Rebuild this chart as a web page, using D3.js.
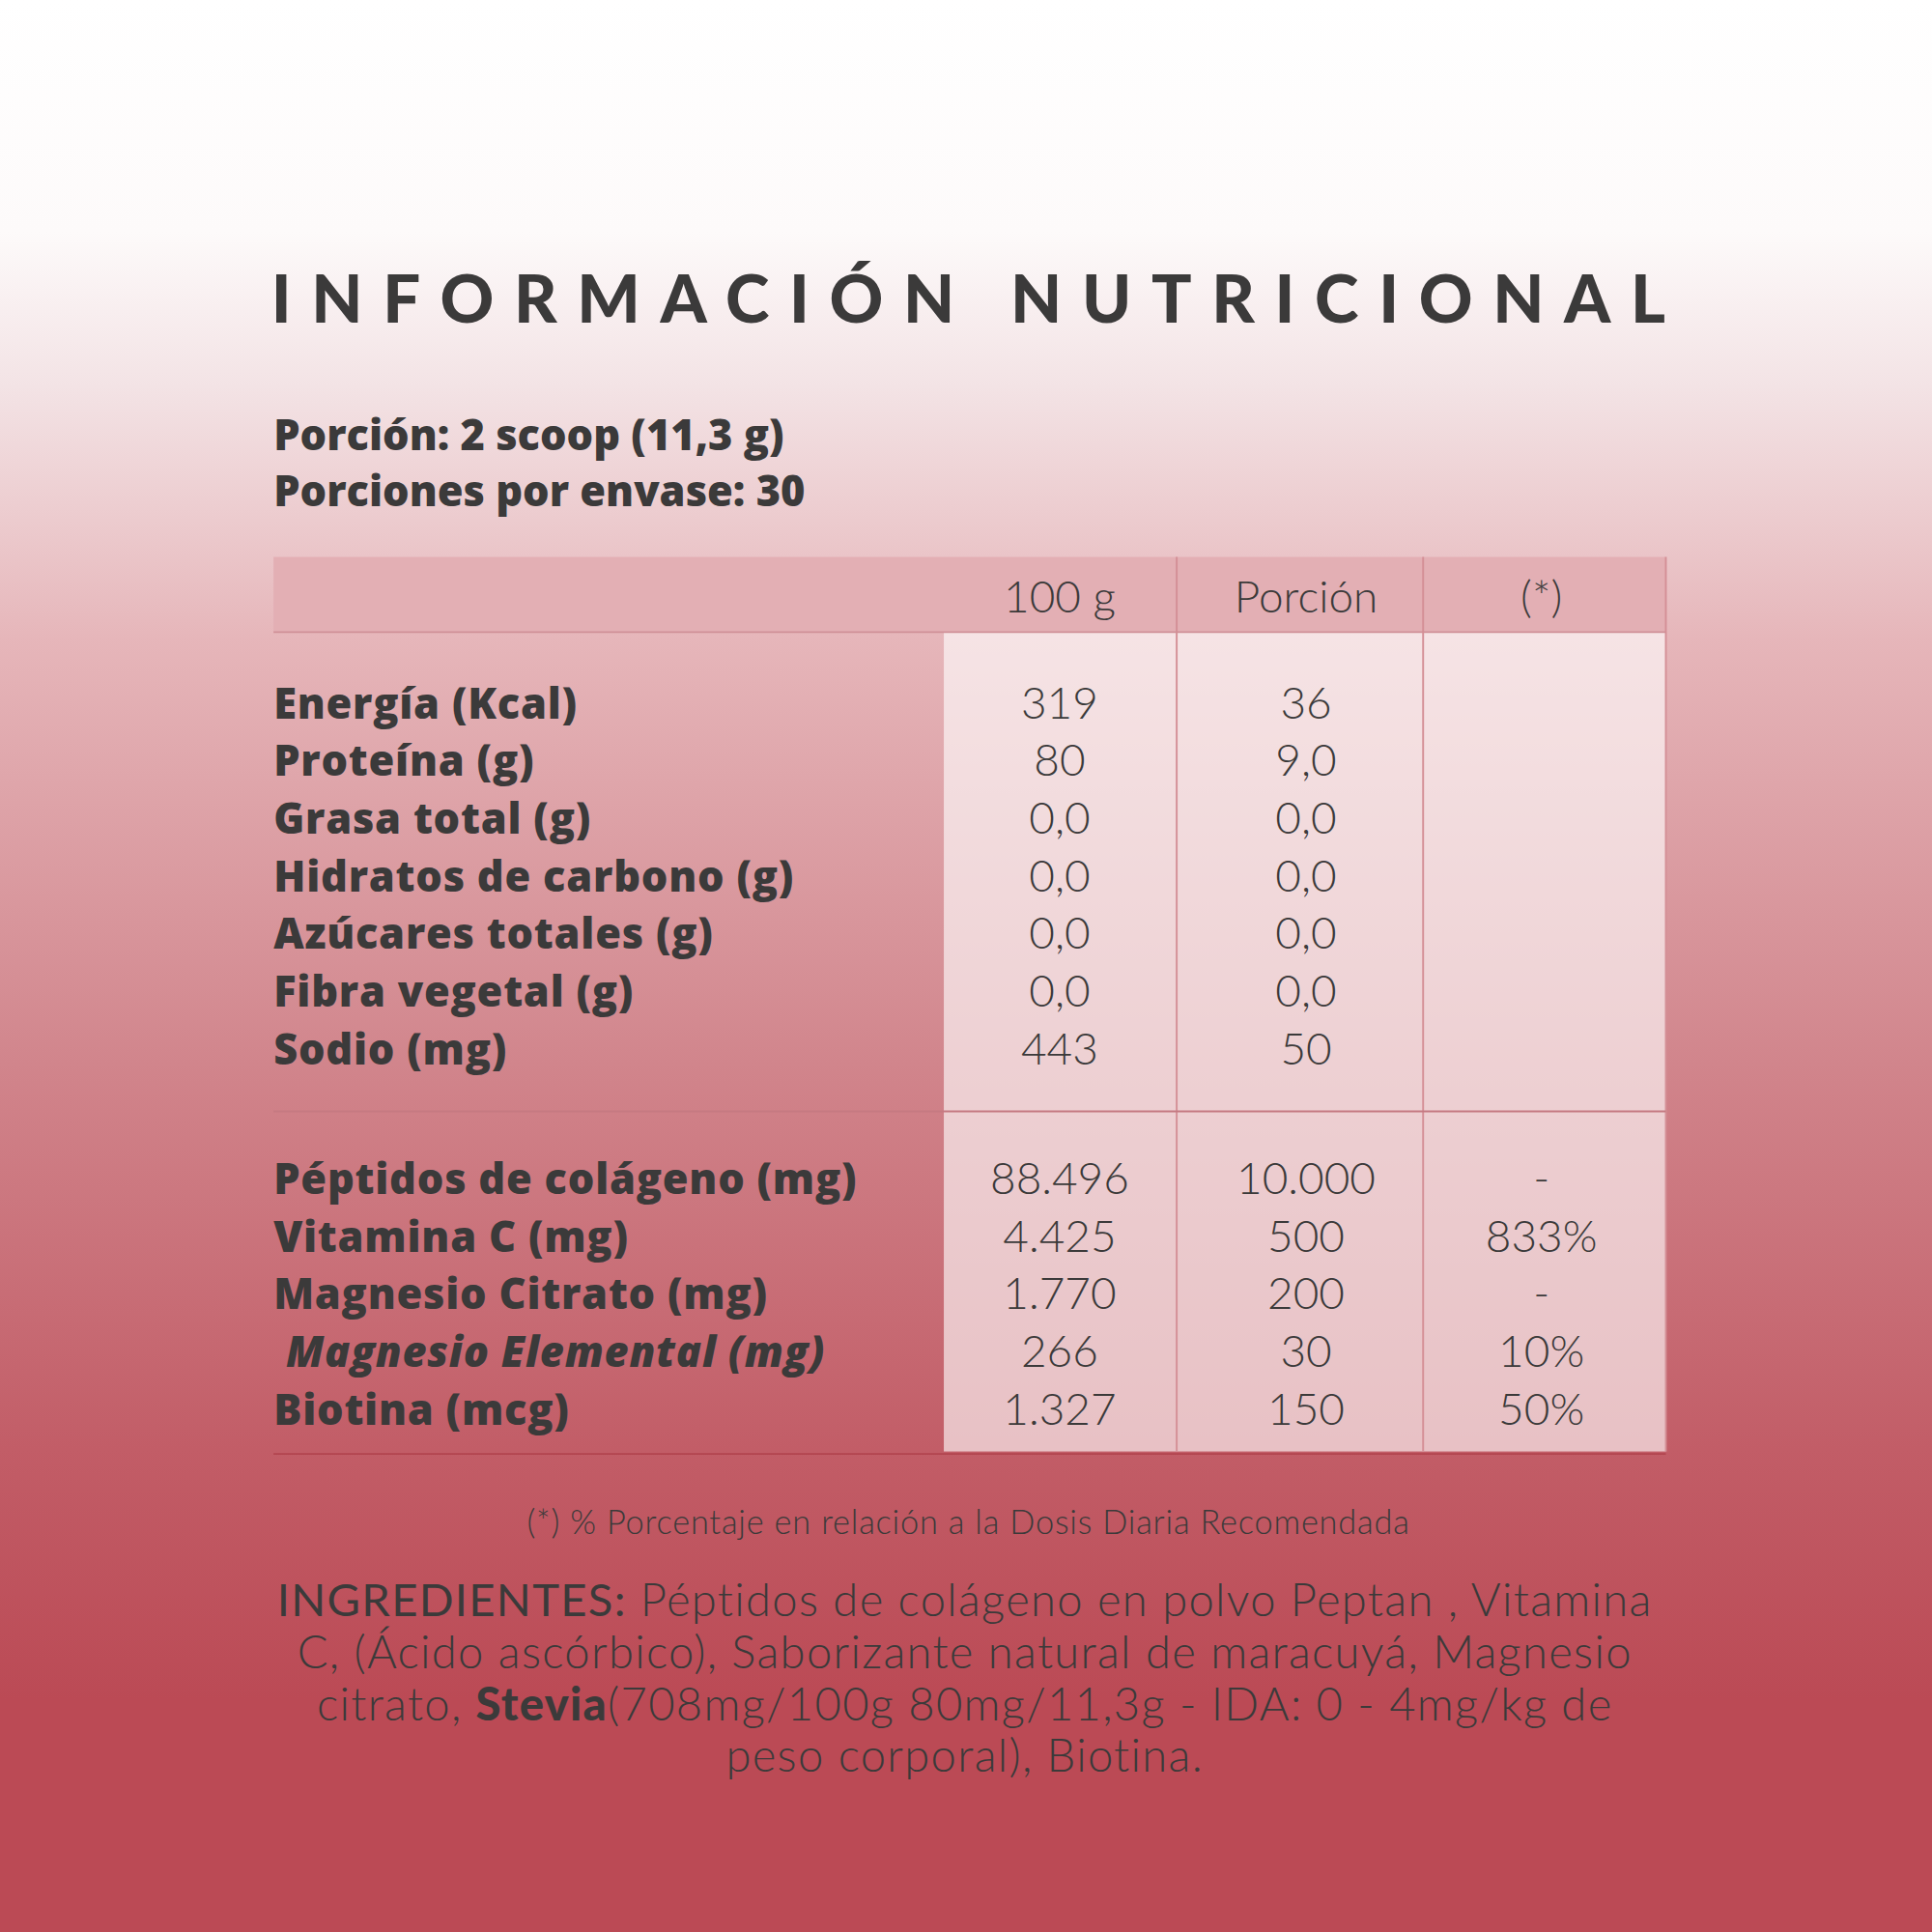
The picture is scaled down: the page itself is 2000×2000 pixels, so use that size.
<!DOCTYPE html>
<html><head><meta charset="utf-8">
<script src="https://cdn.jsdelivr.net/npm/d3@7"></script>
<style>body{margin:0}svg{display:block}</style>
</head><body>
<script>
// data
var columns = ["100 g", "Porción", "(*)"];
var labels1 = ["Energía (Kcal)", "Proteína (g)", "Grasa total (g)", "Hidratos de carbono (g)", "Azúcares totales (g)", "Fibra vegetal (g)", "Sodio (mg)"];
var per100a = ["319", "80", "0,0", "0,0", "0,0", "0,0", "443"];
var porcionA = ["36", "9,0", "0,0", "0,0", "0,0", "0,0", "50"];
var labels2 = ["Péptidos de colágeno (mg)", "Vitamina C (mg)", "Magnesio Citrato (mg)", "Magnesio Elemental (mg)", "Biotina (mcg)"];
var per100b = ["88.496", "4.425", "1.770", "266", "1.327"];
var porcionB = ["10.000", "500", "200", "30", "150"];
var pctB = ["-", "833%", "-", "10%", "50%"];
var ingredients = [
  [["INGREDIENTES:", 400], [" Péptidos de colágeno en polvo Peptan , Vitamina", 300]],
  [["C, (Ácido ascórbico), Saborizante natural de maracuyá, Magnesio", 300]],
  [["citrato, ", 300], ["Stevia", 900], ["(708mg/100g  80mg/11,3g - IDA: 0 - 4mg/kg de", 300]],
  [["peso corporal), Biotina.", 300]]
];

var W = 1568, ink = "#3b3a3a";
var svg = d3.select("body").append("svg")
  .attr("width", 2000).attr("height", 2000)
  .attr("viewBox", "0 0 " + W + " " + W)
  .style("font-family", "Lato");

var grad = svg.append("defs").append("linearGradient").attr("id", "bg")
  .attr("x1", 0).attr("x2", 0).attr("y1", 0).attr("y2", 1);
[[0, "#ffffff"], [0.12, "#fdfafa"], [0.2, "#f3e3e5"], [0.33, "#e6b6ba"], [0.55, "#d1858c"], [0.75, "#c25d67"], [0.88, "#bb4a55"], [1, "#bb4a55"]]
  .forEach(function(s) { grad.append("stop").attr("offset", s[0]).attr("stop-color", s[1]); });
svg.append("rect").attr("width", W).attr("height", W).attr("fill", "url(#bg)");

svg.append("text").attr("x", 794).attr("y", 262).attr("text-anchor", "middle")
  .attr("font-size", 54).attr("font-weight", 900).attr("letter-spacing", 16.2).attr("fill", ink)
  .text("INFORMACIÓN NUTRICIONAL");

svg.selectAll(".por").data(["Porción: 2 scoop (11,3 g)", "Porciones por envase: 30"]).join("text")
  .attr("x", 222).attr("y", function(d, i) { return 365 + i * 46; })
  .style("font-family", "Open Sans")
  .attr("font-size", 34).attr("font-weight", 800).attr("fill", ink).text(function(d) { return d; });

// columns
var colX = d3.scaleOrdinal().domain(columns).range([860, 1060, 1251]);
var tLeft = 222, tRight = 1352, tTop = 452, tHead = 513, tBottom = 1178;

svg.append("rect").attr("x", tLeft).attr("y", tTop).attr("width", tRight - tLeft).attr("height", tHead - tTop)
  .attr("fill", "#e3afb4");
svg.append("rect").attr("x", 766).attr("y", tHead).attr("width", tRight - 766).attr("height", tBottom - tHead)
  .attr("fill", "#ffffff").attr("opacity", 0.62);
svg.append("line").attr("x1", tLeft).attr("x2", tRight).attr("y1", tHead).attr("y2", tHead)
  .attr("stroke", "#d09097").attr("stroke-width", 1.5);
[955, 1155, 1352].forEach(function(x) {
  svg.append("line").attr("x1", x).attr("x2", x).attr("y1", tTop).attr("y2", tBottom)
    .attr("stroke", "#d48f96").attr("stroke-width", 1.5);
});
svg.append("line").attr("x1", tLeft).attr("x2", tRight).attr("y1", 902).attr("y2", 902)
  .attr("stroke", "#c57a82").attr("stroke-width", 1.5);
svg.append("line").attr("x1", tLeft).attr("x2", tRight).attr("y1", 1180).attr("y2", 1180)
  .attr("stroke", "#b2454f").attr("stroke-width", 1.5);

svg.selectAll(".hd").data(columns).join("text")
  .attr("x", function(d) { return colX(d); }).attr("y", 497).attr("text-anchor", "middle")
  .attr("font-size", 36).attr("font-weight", 300).attr("fill", ink).text(function(d) { return d; });

function block(labels, cols, y0) {
  var y = d3.scaleLinear().domain([0, 1]).range([y0, y0 + 46.8]);
  labels.forEach(function(l, i) {
    var italic = l === "Magnesio Elemental (mg)";
    svg.append("text").attr("x", italic ? 232 : 222).attr("y", y(i))
      .style("font-family", "Open Sans")
      .attr("font-size", 34).attr("font-weight", 800).attr("letter-spacing", 0.6).attr("fill", ink)
      .attr("font-style", italic ? "italic" : null).text(l);
    cols.forEach(function(c, j) {
      svg.append("text").attr("x", colX(columns[j])).attr("y", y(i)).attr("text-anchor", "middle")
        .attr("font-size", 36).attr("font-weight", 300).attr("fill", ink).text(c[i]);
    });
  });
}
block(labels1, [per100a, porcionA], 583);
block(labels2, [per100b, porcionB, pctB], 969);

svg.append("text").attr("x", 786).attr("y", 1245).attr("text-anchor", "middle")
  .attr("font-size", 27).attr("font-weight", 300).attr("letter-spacing", 0.6).attr("fill", ink)
  .text("(*) % Porcentaje en relación a la Dosis Diaria Recomendada");

ingredients.forEach(function(line, i) {
  var t = svg.append("text").attr("x", 783).attr("y", 1312 + i * 42).attr("text-anchor", "middle")
    .attr("font-size", 37).attr("letter-spacing", 1).attr("fill", ink);
  line.forEach(function(p) { t.append("tspan").attr("font-weight", p[1]).text(p[0]); });
});
</script>
</body></html>
